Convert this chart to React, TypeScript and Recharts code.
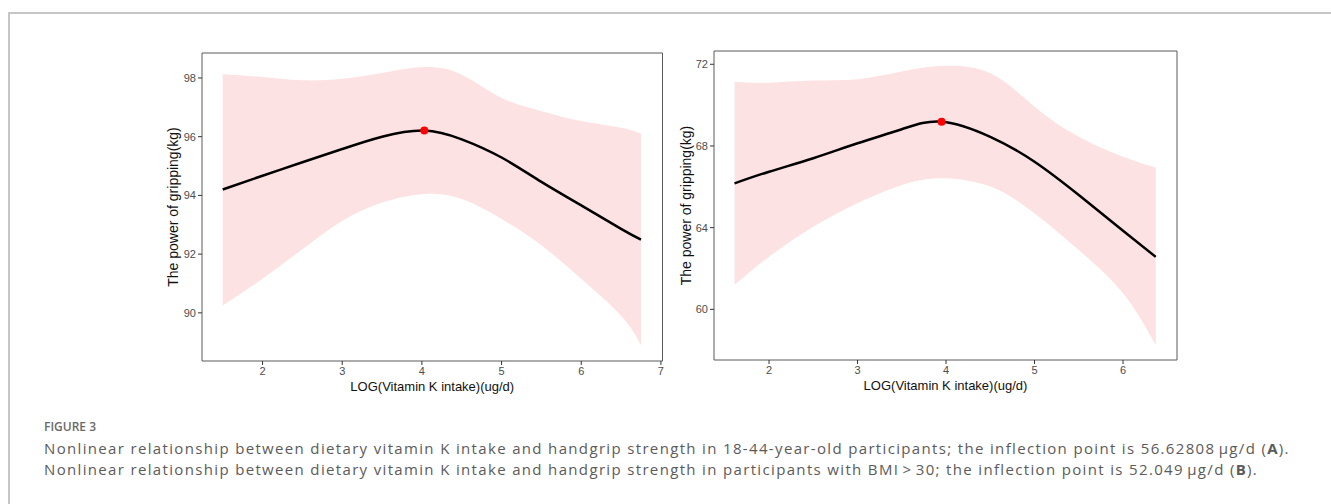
import {
  ComposedChart, Area, Line, Scatter,
  XAxis, YAxis, ReferenceArea,
} from 'recharts'

// Panel A: 18-44-year-old participants
const A_X = [1.5, 2, 2.5, 3, 3.5, 4.03, 4.5, 5, 5.5, 6, 6.5, 6.75]
const A_FIT = [94.2, 94.67, 95.13, 95.58, 96.0, 96.21, 95.91, 95.29, 94.46, 93.66, 92.86, 92.49]
const A_LO = [90.25, 91.16, 92.17, 93.13, 93.76, 94.05, 93.88, 93.2, 92.3, 91.16, 89.9, 88.9]
const A_HI = [98.13, 98.03, 97.92, 97.97, 98.17, 98.37, 98.11, 97.32, 96.87, 96.53, 96.3, 96.1]
const A_POINT = { x: 4.03, y: 96.21 }
const A_XTICKS = [2, 3, 4, 5, 6, 7]
const A_YTICKS = [90, 92, 94, 96, 98]
const A_XDOM: [number, number] = [1.24, 7.02]
const A_YDOM: [number, number] = [88.36, 98.85]

// Panel B: participants with BMI > 30
const B_X = [1.61, 2, 2.5, 3, 3.5, 3.95, 4.5, 5, 5.5, 6, 6.37]
const B_FIT = [66.17, 66.74, 67.4, 68.13, 68.82, 69.19, 68.45, 67.23, 65.6, 63.85, 62.57]
const B_LO = [61.2, 62.58, 64.05, 65.2, 66.09, 66.42, 66.01, 64.7, 62.9, 60.79, 58.25]
const B_HI = [71.15, 71.1, 71.2, 71.27, 71.65, 71.92, 71.56, 69.92, 68.45, 67.47, 66.94]
const B_POINT = { x: 3.95, y: 69.19 }
const B_XTICKS = [2, 3, 4, 5, 6]
const B_YTICKS = [60, 64, 68, 72]
const B_XDOM: [number, number] = [1.378, 6.61]
const B_YDOM: [number, number] = [57.52, 72.65]

const X_TITLE = 'LOG(Vitamin K intake)(ug/d)'
const Y_TITLE = 'The power of gripping(kg)'

const CAPTION_A =
  'Nonlinear relationship between dietary vitamin K intake and handgrip strength in 18-44-year-old participants; the inflection point is 56.62808\u202fμg/d ('
const CAPTION_B =
  'Nonlinear relationship between dietary vitamin K intake and handgrip strength in participants with BMI\u202f>\u202f30; the inflection point is 52.049\u202fμg/d ('

const FONT = '"Liberation Sans", Arial, sans-serif'
const tickStyle = { fontSize: 11, fill: '#4d4d4d', fontFamily: FONT }
const xTitleStyle = { fontSize: 13, fill: '#111', fontFamily: FONT, textAnchor: 'middle' as const }
const yTitleStyle = { fontSize: 14, fill: '#111', fontFamily: FONT, textAnchor: 'middle' as const }

type Row = { x: number; fit: number; lo: number; hi: number }

function build(xs: number[], fit: number[], lo: number[], hi: number[]): Row[] {
  return xs.map((x, i) => ({ x, fit: fit[i], lo: lo[i], hi: hi[i] }))
}

type PanelProps = {
  data: Row[]
  point: { x: number; y: number }
  xTicks: number[]
  yTicks: number[]
  xDom: [number, number]
  yDom: [number, number]
  width: number
  height: number
  margin: { top: number; right: number; bottom: number; left: number }
  yLabelOffset: number
}

function Panel({ data, point, xTicks, yTicks, xDom, yDom, width, height, margin, yLabelOffset }: PanelProps) {
  return (
    <ComposedChart width={width} height={height} data={data} margin={margin}>
      <XAxis
        type="number"
        dataKey="x"
        domain={xDom}
        ticks={xTicks}
        allowDataOverflow
        axisLine={false}
        tickSize={4}
        tickMargin={2}
        tickLine={{ stroke: '#333' }}
        tick={tickStyle}
        height={35}
        label={{ value: X_TITLE, position: 'insideBottom', offset: 5, style: xTitleStyle }}
      />
      <YAxis
        type="number"
        domain={yDom}
        ticks={yTicks}
        allowDataOverflow
        axisLine={false}
        tickSize={4}
        tickMargin={2}
        tickLine={{ stroke: '#333' }}
        tick={tickStyle}
        width={50}
        label={{ value: Y_TITLE, angle: -90, position: 'insideLeft', offset: yLabelOffset, style: yTitleStyle }}
      />
      <Area
        type="natural"
        dataKey={(d: Row) => [d.lo, d.hi]}
        stroke="none"
        fill="#fde2e3"
        fillOpacity={1}
        isAnimationActive={false}
      />
      <Line
        type="natural"
        dataKey="fit"
        stroke="#000"
        strokeWidth={2.5}
        dot={false}
        isAnimationActive={false}
      />
      <Scatter
        data={[{ x: point.x, fit: point.y }]}
        dataKey="fit"
        isAnimationActive={false}
        shape={(p: any) => <circle cx={p.cx} cy={p.cy} r={4} fill="#ff0000" />}
      />
      <ReferenceArea
        x1={xDom[0]}
        x2={xDom[1]}
        y1={yDom[0]}
        y2={yDom[1]}
        fill="none"
        stroke="#5a5a5a"
        strokeWidth={1}
        ifOverflow="visible"
      />
    </ComposedChart>
  )
}

export default function App() {
  const dataA = build(A_X, A_FIT, A_LO, A_HI)
  const dataB = build(B_X, B_FIT, B_LO, B_HI)
  return (
    <div style={{ position: 'absolute', left: 0, top: 0, width: 1331, height: 504, background: '#fff', overflow: 'hidden' }}>
      <div
        style={{
          position: 'absolute', left: 8, top: 12, width: 1340, height: 500,
          borderTop: '2px solid #c6c6c6', borderLeft: '2px solid #c6c6c6',
        }}
      />
      <div style={{ position: 'absolute', left: 140, top: 40 }}>
        <Panel
          data={dataA}
          point={A_POINT}
          xTicks={A_XTICKS}
          yTicks={A_YTICKS}
          xDom={A_XDOM}
          yDom={A_YDOM}
          width={540}
          height={370}
          margin={{ top: 13, right: 17.5, bottom: 14, left: 12 }}
          yLabelOffset={21}
        />
      </div>
      <div style={{ position: 'absolute', left: 650, top: 40 }}>
        <Panel
          data={dataB}
          point={B_POINT}
          xTicks={B_XTICKS}
          yTicks={B_YTICKS}
          xDom={B_XDOM}
          yDom={B_YDOM}
          width={545}
          height={370}
          margin={{ top: 11, right: 18, bottom: 15, left: 14 }}
          yLabelOffset={22}
        />
      </div>
      <div
        style={{
          position: 'absolute', left: 44, top: 420, fontFamily: '"Open Sans", sans-serif',
          fontSize: 12, fontWeight: 600, color: '#6a6a6a', lineHeight: '14px',
        }}
      >
        FIGURE 3
      </div>
      <div
        style={{
          position: 'absolute', left: 44, top: 438, fontFamily: '"Open Sans", sans-serif',
          fontSize: 15, fontWeight: 400, color: '#5b5b5b', lineHeight: '20.5px',
          letterSpacing: '1.34px', whiteSpace: 'nowrap',
        }}
      >
        <div>{CAPTION_A}<b>A</b>).</div>
        <div>{CAPTION_B}<b>B</b>).</div>
      </div>
    </div>
  )
}
